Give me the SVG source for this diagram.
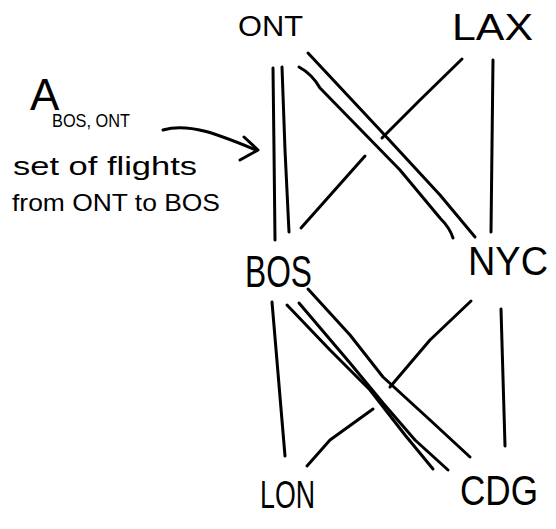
<svg xmlns="http://www.w3.org/2000/svg" width="556" height="529" viewBox="0 0 556 529">
<style>
.lbl{font-family:"Liberation Sans","DejaVu Sans",sans-serif;fill:#000}
.ln{fill:none;stroke:#000;stroke-width:3;stroke-linecap:round;stroke-linejoin:round}
</style>
<rect width="556" height="529" fill="#fff"/>
<g id="connectors">
<path class="ln" d="M273,68 L274,150 L275,240"/>
<path class="ln" d="M282,67 L285,150 L289,232"/>
<path class="ln" d="M299,67 Q312,74 320,88 L400,170 L440,218 Q450,228 453,238"/>
<path class="ln" d="M308,53 L380,130 L440,195 L475,237"/>
<path class="ln" d="M462,59 L420,100 L382,138"/>
<path class="ln" d="M365,156 L301,228"/>
<path class="ln" d="M493,60 L491,232"/>
<path class="ln" d="M272,302 L285,456"/>
<path class="ln" d="M287,305 L330,350 L370,390 L405,435 L433,469"/>
<path class="ln" d="M299,303 L350,363 L383,403 L415,440 L448,470"/>
<path class="ln" d="M308,289 L350,335 L383,377 L430,420 L470,457"/>
<path class="ln" d="M471,301 L430,340 L390,387"/>
<path class="ln" d="M373,409 L330,440 L307,466"/>
<path class="ln" d="M501,309 L505,446"/>
</g>
<g id="ONT"><text class="lbl" x="238" y="36" font-size="29" textLength="65" lengthAdjust="spacingAndGlyphs">ONT</text></g>
<g id="LAX"><text class="lbl" x="452" y="40" font-size="36" textLength="81" lengthAdjust="spacingAndGlyphs">LAX</text></g>
<g id="BOS"><text class="lbl" x="245" y="287" font-size="44" textLength="67" lengthAdjust="spacingAndGlyphs">BOS</text></g>
<g id="NYC"><text class="lbl" x="468" y="275" font-size="41" textLength="80" lengthAdjust="spacingAndGlyphs">NYC</text></g>
<g id="LON"><text class="lbl" x="260" y="508" font-size="38" textLength="55" lengthAdjust="spacingAndGlyphs">LON</text></g>
<g id="CDG"><text class="lbl" x="460" y="505" font-size="42" textLength="78" lengthAdjust="spacingAndGlyphs">CDG</text></g>
<g id="annotation">
<text class="lbl" x="30" y="110" font-size="44">A</text>
<text class="lbl" x="52" y="127" font-size="19" textLength="78" lengthAdjust="spacingAndGlyphs">BOS, ONT</text>
<text class="lbl" x="13" y="175" font-size="26" textLength="184" lengthAdjust="spacingAndGlyphs">set of flights</text>
<text class="lbl" x="12" y="211" font-size="24" textLength="208" lengthAdjust="spacingAndGlyphs">from ONT to BOS</text>
<path class="ln" d="M163,130 C190,122 222,136 256,150"/>
<path class="ln" d="M244,137 L258,150 L240,160"/>
</g>
</svg>
